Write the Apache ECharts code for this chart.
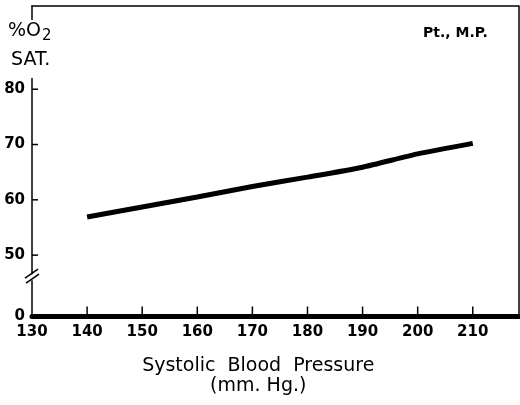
<!DOCTYPE html>
<html>
<head>
<meta charset="utf-8">
<script src="https://cdn.jsdelivr.net/npm/echarts@6/dist/echarts.min.js"></script>
<style>
  html, body { margin: 0; padding: 0; background: #fff; }
  #chart { width: 520px; height: 405px; }
</style>
</head>
<body>
<div id="chart"></div>
<script>
// systolic pressure (mm Hg) vs O2 saturation (%), patient M.P.
const pressure = [140, 150, 160, 170, 180, 190, 200, 210];
const satPct = [56.9, 58.7, 60.5, 62.4, 64.1, 65.9, 68.3, 70.2];
const xTicks = [140, 150, 160, 170, 180, 190, 200, 210];
const xLabels = [130, 140, 150, 160, 170, 180, 190, 200, 210];
const yTicks = [50, 60, 70, 80];
const yBottom = 38.9;   // broken axis: bottom of scale is labelled "0"
const yLabels = [yBottom, 50, 60, 70, 80];

const FONT = 'DejaVu Sans';
const chart = echarts.init(document.getElementById('chart'));

const tickFont = { color: '#000', fontFamily: FONT, fontWeight: 'bold', fontSize: 15 };

const option = {
  animation: false,
  backgroundColor: '#fff',
  grid: { left: 32, right: 1.5, top: 6, bottom: 88.5 },
  xAxis: [
    {
      type: 'value', min: 130, max: 218.3,
      splitLine: { show: false },
      axisLine: { lineStyle: { color: '#000', width: 5 } },
      axisTick: { show: false },
      axisLabel: Object.assign({ margin: 8, customValues: xLabels }, tickFont),
      name: 'Systolic  Blood  Pressure\n(mm. Hg.)',
      nameLocation: 'middle',
      nameGap: 40,
      nameTextStyle: { color: '#000', fontFamily: FONT, fontSize: 19, lineHeight: 20, padding: [0, 34, 0, 0] }
    },
    {
      type: 'value', position: 'top', min: 130, max: 218.3,
      splitLine: { show: false }, axisTick: { show: false }, axisLabel: { show: false },
      axisLine: { lineStyle: { color: '#000', width: 1.5 } }
    }
  ],
  yAxis: [
    {
      type: 'value', min: yBottom, max: 95.05,
      splitLine: { show: false },
      axisLine: { lineStyle: { color: '#000', width: 1.5 } },
      axisTick: { show: false },
      axisLabel: Object.assign({
        margin: 7, customValues: yLabels,
        formatter: v => (v < 45 ? '0' : String(v))
      }, tickFont)
    },
    {
      type: 'value', position: 'right', min: yBottom, max: 95.05,
      splitLine: { show: false }, axisTick: { show: false }, axisLabel: { show: false },
      axisLine: { lineStyle: { color: '#000', width: 1.5 } }
    }
  ],
  series: [{
    type: 'line',
    data: pressure.map((p, i) => [p, satPct[i]]),
    symbol: 'none',
    smooth: 0.2,
    lineStyle: { color: '#000', width: 5, cap: 'butt' },
    z: 5
  }]
};
chart.setOption(option);

// inward ticks, axis title in a gap of the y axis line, break marks, patient tag
const ax = chart.convertToPixel({ xAxisIndex: 0 }, 130);
const ay = chart.convertToPixel({ yAxisIndex: 0 }, yBottom);
const brk = chart.convertToPixel({ yAxisIndex: 0 }, 46);
const tickStyle = { stroke: '#000', lineWidth: 1.5 };
const ticks = xTicks.map(v => {
  const px = chart.convertToPixel({ xAxisIndex: 0 }, v);
  return { type: 'line', z: 101, shape: { x1: px, y1: ay, x2: px, y2: ay - 10 }, style: tickStyle };
}).concat(yTicks.map(v => {
  const py = chart.convertToPixel({ yAxisIndex: 0 }, v);
  return { type: 'line', z: 101, shape: { x1: ax, y1: py, x2: ax + 6, y2: py }, style: tickStyle };
}));

chart.setOption({
  graphic: ticks.concat([
    {
      type: 'rect', z: 100,
      shape: { x: ax - 4, y: 20, width: 8, height: 58 },
      style: { fill: '#fff' }
    },
    {
      type: 'text', z: 101, left: 8, top: 22,
      style: {
        text: '{a|%O}{b|2}',
        rich: {
          a: { fontFamily: FONT, fontSize: 19, fill: '#000' },
          b: { fontFamily: FONT, fontSize: 15, fill: '#000', padding: [10, 0, 0, 1] }
        }
      }
    },
    {
      type: 'text', z: 101, left: 11, top: 51,
      style: { text: 'SAT.', font: '19px "DejaVu Sans"', fill: '#000' }
    },
    {
      type: 'rect', z: 100,
      shape: { x: ax - 3, y: brk - 3, width: 6, height: 6 },
      style: { fill: '#fff' }
    },
    {
      type: 'line', z: 101,
      shape: { x1: ax - 7, y1: brk + 1, x2: ax + 6, y2: brk - 8 },
      style: tickStyle
    },
    {
      type: 'line', z: 101,
      shape: { x1: ax - 6, y1: brk + 6, x2: ax + 7, y2: brk - 3 },
      style: tickStyle
    },
    {
      type: 'text', z: 101, left: 423, top: 26,
      style: { text: 'Pt., M.P.', font: 'bold 14px "DejaVu Sans"', fill: '#000' }
    }
  ])
});
</script>
</body>
</html>
